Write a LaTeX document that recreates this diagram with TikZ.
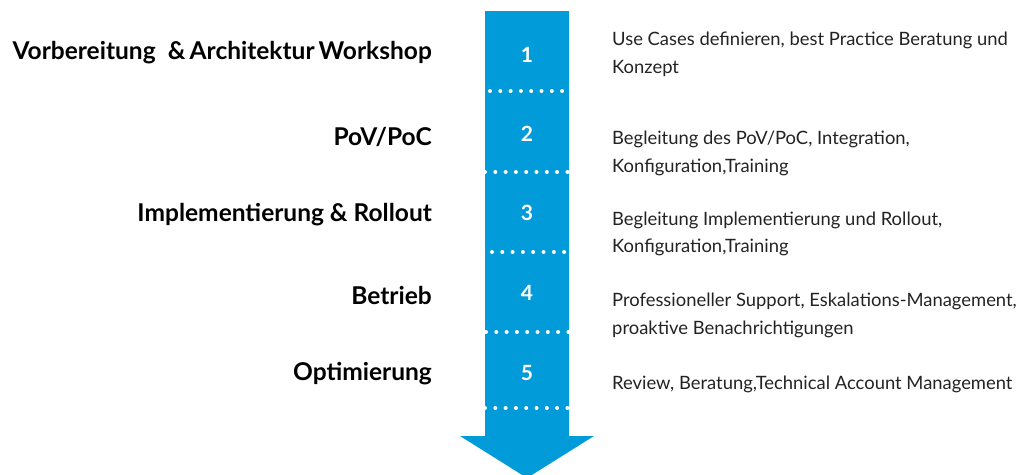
\documentclass[tikz,border=0pt]{standalone}
\usepackage{fontspec}
\setmainfont{Lato}
\definecolor{arrowblue}{RGB}{0,155,216}
\definecolor{txt}{RGB}{35,35,35}
\begin{document}
\begin{tikzpicture}[x=1pt,y=-1pt,
  phase/.style={anchor=east,inner sep=0pt,font=\fontsize{24.5}{28}\selectfont\bfseries,text=black},
  desc/.style={anchor=west,inner sep=0pt,align=left,font=\fontsize{18.4}{27.5}\selectfont,text=txt},
  num/.style={inner sep=0pt,font=\fontsize{21}{24}\selectfont\bfseries,text=white},
  dot/.style={fill=white}]
\useasboundingbox (0,0) rectangle (1016,474);
\begin{scope}
\clip (0,0) rectangle (1016,474);
\fill[arrowblue] (485,11) -- (569,11) -- (569,436) -- (594,436) -- (527,478) -- (460,436) -- (485,436) -- cycle;
\end{scope}
% dotted separators
\foreach \y/\a/\n in {91/490/8,172/485/9,252/492/8,332/486/9,408/485/9}{
  \foreach \i in {1,...,\n}{
    \fill[dot] ({\a+(\i-1)*10.3},\y) circle (2);
  }
}
% numbers
\node[num] (n1) at (527,55) {1};
\node[num] (n2) at (527,134) {2};
\node[num] (n3) at (527,213) {3};
\node[num] (n4) at (527,293) {4};
\node[num] (n5) at (527,373) {5};
% phases
\node[phase] (p1) at (432,52.5) {Vorbereitung\enspace\&\,Architektur\,Workshop};
\node[phase] (p2) at (432,136.5) {PoV/PoC};
\node[phase] (p3) at (432,214.5) {Implementierung \& Rollout};
\node[phase] (p4) at (432,295.5) {Betrieb};
\node[phase] (p5) at (432,373.5) {Optimierung};
% descriptions
\node[desc] (d1) at (612,54.5) {Use Cases definieren, best Practice Beratung und\\Konzept};
\node[desc] (d2) at (612,153.5) {Begleitung des PoV/PoC, Integration,\\Konfiguration,Training};
\node[desc] (d3) at (612,234) {Begleitung Implementierung und Rollout,\\Konfiguration,Training};
\node[desc] (d4) at (612,315.5) {Professioneller Support, Eskalations-Management,\\proaktive Benachrichtigungen};
\node[desc] (d5) at (612,384) {Review, Beratung,Technical Account Management};
\end{tikzpicture}
\end{document}
